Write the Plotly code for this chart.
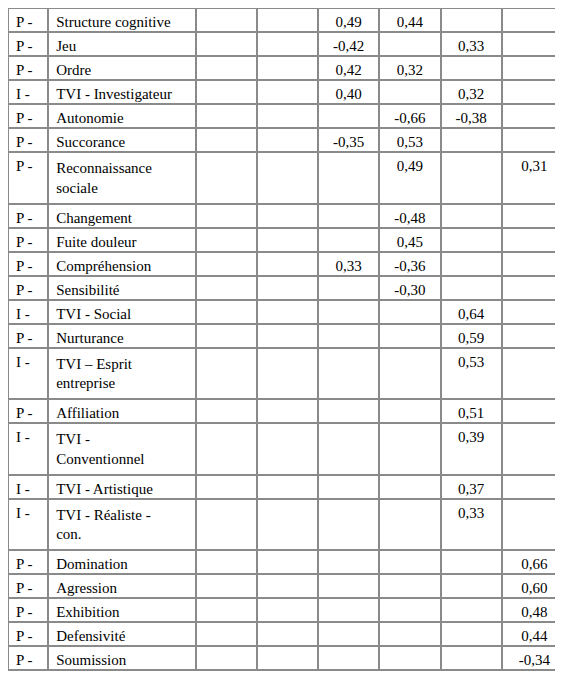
import plotly.graph_objects as go

prefix = ["P -", "P -", "P -", "I -", "P -", "P -", "P -", "P -", "P -", "P -", "P -", "I -",
          "P -", "I -", "P -", "I -", "I -", "I -", "P -", "P -", "P -", "P -", "P -"]
labels = ["Structure cognitive", "Jeu", "Ordre", "TVI - Investigateur", "Autonomie", "Succorance",
          "Reconnaissance<br>sociale", "Changement", "Fuite douleur", "Compréhension", "Sensibilité",
          "TVI - Social", "Nurturance", "TVI – Esprit<br>entreprise", "Affiliation",
          "TVI -<br>Conventionnel", "TVI - Artistique", "TVI - Réaliste -<br>con.", "Domination",
          "Agression", "Exhibition", "Defensivité", "Soumission"]
col_a = [""] * 23
col_b = [""] * 23
col_c = ["0,49", "-0,42", "0,42", "0,40", "", "-0,35", "", "", "", "0,33", "", "", "", "", "", "", "", "", "", "", "", "", ""]
col_d = ["0,44", "", "0,32", "", "-0,66", "0,53", "0,49", "-0,48", "0,45", "-0,36", "-0,30", "", "", "", "", "", "", "", "", "", "", "", ""]
col_e = ["", "0,33", "", "0,32", "-0,38", "", "", "", "", "", "", "0,64", "0,59", "0,53", "0,51", "0,39", "0,37", "0,33", "", "", "", "", ""]
col_f = ["", "", "", "", "", "", "0,31", "", "", "", "", "", "", "", "", "", "", "", "0,66", "0,60", "0,48", "0,44", "-0,34"]

cols = [prefix, labels, col_a, col_b, col_c, col_d, col_e, col_f]
font = dict(family="Times New Roman, Liberation Serif, DejaVu Serif, serif", size=15, color="black")
aligns = ["left", "left", "center", "center", "center", "center", "center", "center"]

fig = go.Figure(go.Table(
    columnwidth=[40, 147, 61, 61, 61, 61, 61, 65],
    header=dict(values=[c[0] for c in cols], height=24, align=aligns, font=font,
                fill_color="white", line=dict(color="#8a8a8a", width=2)),
    cells=dict(values=[c[1:] for c in cols], height=24, align=aligns, font=font,
               fill_color="white", line=dict(color="#8a8a8a", width=2)),
))
fig.update_layout(width=563, height=682, margin=dict(l=0, r=4, t=0, b=0),
                  paper_bgcolor="white")
fig.write_html("out.html")
